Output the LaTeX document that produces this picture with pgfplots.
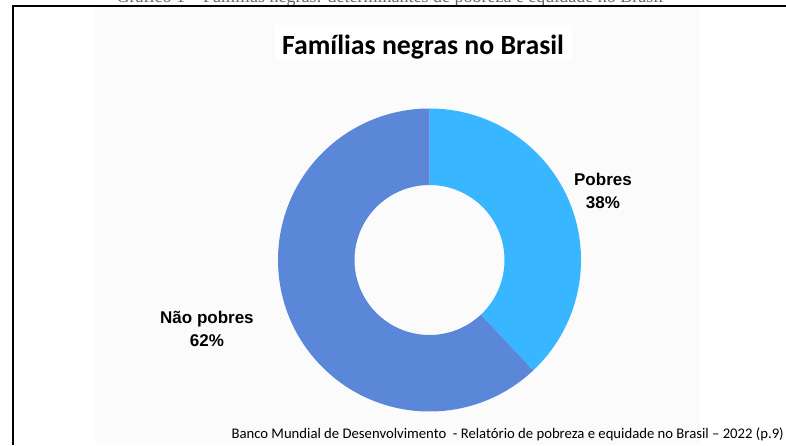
\documentclass[border=0pt]{standalone}
\usepackage{pgfplots}
\pgfplotsset{compat=1.18}
\usepackage{pgfplotstable}
\usepackage{fontspec}
\setmainfont{Liberation Sans}
\newfontfamily\carlito[Ligatures=TeX]{Carlito}
\newfontfamily\serifcap[Ligatures=TeX]{Liberation Serif}
\usetikzlibrary{calc}

\definecolor{pobres}{HTML}{38B6FF}
\definecolor{naopobres}{HTML}{5B87D9}
\definecolor{fundo}{HTML}{FBFBFB}

% percentual de familias negras
\pgfplotstableread{
grupo valor
1 38
2 62
}\familias

\begin{document}
\begin{tikzpicture}
\useasboundingbox (0pt,0pt) rectangle (786pt,445pt);
\fill[fundo] (95pt,0pt) rectangle (700pt,438pt);
\fill[white] (275pt,385pt) rectangle (572pt,420pt);

% legenda cortada no topo
\begin{scope}
  \clip (0pt,439pt) rectangle (786pt,445pt);
  \node[anchor=base, font=\serifcap\fontsize{18}{18}\selectfont, text=black!60, inner sep=0pt]
    at (390pt,442.5pt) {Gráfico 1 – Famílias negras: determinantes de pobreza e equidade no Brasil};
\end{scope}
\draw[line width=2.5pt] (13pt,0pt) -- (13pt,439pt) -- (786pt,439pt);

\node[font=\carlito\bfseries\fontsize{27.8}{27.8}\selectfont] at (423pt,398pt) {Famílias negras no Brasil};

\pgfplotstablegetelem{0}{valor}\of\familias
\let\vPobres\pgfplotsretval
\pgfmathsetmacro\aFim{90-3.6*\vPobres}

\begin{axis}[
  at={(429.5pt,185pt)}, anchor=center,
  x=151.5pt, y=151.5pt,
  xmin=-1.05, xmax=1.05, ymin=-1.05, ymax=1.05,
  hide axis, clip=false
]
\fill[pobres] (axis cs:0,0) ++(90:151.5pt)
  arc[start angle=90, end angle=\aFim, radius=151.5pt]
  -- ($(axis cs:0,0)+(\aFim:75pt)$)
  arc[start angle=\aFim, end angle=90, radius=75pt] -- cycle;
\fill[naopobres] (axis cs:0,0) ++(\aFim:151.5pt)
  arc[start angle=\aFim, end angle=-270, radius=151.5pt]
  -- ($(axis cs:0,0)+(-270:75pt)$)
  arc[start angle=-270, end angle=\aFim, radius=75pt] -- cycle;
\node[align=center, font=\bfseries\fontsize{17}{23}\selectfont]
  at (axis cs:1.145,0.458) {Pobres\\38\%};
\node[align=center, font=\bfseries\fontsize{17}{23}\selectfont]
  at (axis cs:-1.469,-0.458) {Não pobres\\62\%};
\end{axis}

\node[anchor=base east, font=\carlito\fontsize{14.7}{14.7}\selectfont, inner sep=0pt]
  at (784pt,7pt) {Banco Mundial de Desenvolvimento\ \ - Relatório de pobreza e equidade no Brasil – 2022 (p.9)};
\end{tikzpicture}
\end{document}
